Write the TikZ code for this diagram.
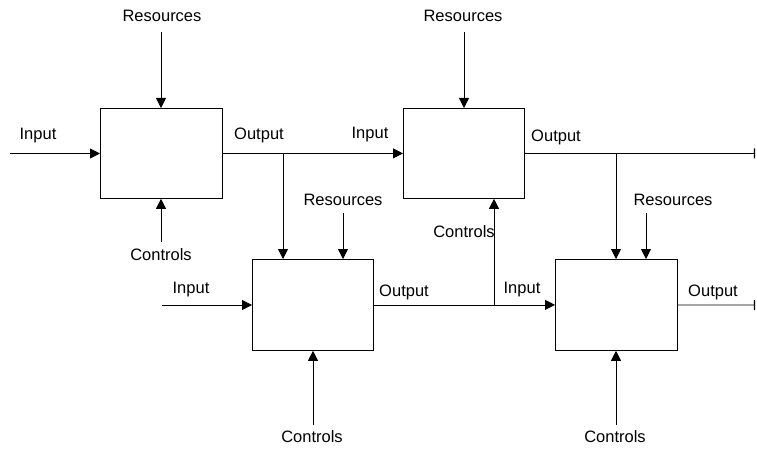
\documentclass[tikz,border=0pt]{standalone}
\usepackage{fontspec}
\setmainfont{Liberation Sans}
\usetikzlibrary{arrows.meta}
\begin{document}
\begin{tikzpicture}[x=1pt,y=-1pt,
  proc/.style={draw, line width=0.8pt, inner sep=0pt, anchor=north west},
  flow/.style={line width=0.8pt, -{Triangle[length=10pt,width=10pt]}},
  term/.style={line width=0.8pt, -{Bar[width=10pt,line width=1.2pt]}},
  lbl/.style={font=\fontsize{16.5}{19}\selectfont, inner sep=0pt}]
\useasboundingbox (0,0) rectangle (757,449);

% activity boxes
\node[proc, minimum width=122pt, minimum height=90pt] (A) at (100,108) {};
\node[proc, minimum width=121pt, minimum height=90pt] (B) at (403,108) {};
\node[proc, minimum width=121pt, minimum height=91pt] (C) at (252,259) {};
\node[proc, minimum width=122pt, minimum height=91pt] (D) at (555,259) {};

% free ends and junctions
\coordinate (a-in)  at (10,153.5);
\coordinate (a-res) at (161,32);
\coordinate (a-ctl) at (161,242);
\coordinate (j1)    at (283,153.5);
\coordinate (b-res) at (464,32);
\coordinate (b-out) at (755,153.5);
\coordinate (j2)    at (616,153.5);
\coordinate (c-in)  at (162,305);
\coordinate (c-res) at (343,213);
\coordinate (c-ctl) at (313,425);
\coordinate (j3)    at (494,305);
\coordinate (d-res) at (646,213);
\coordinate (d-ctl) at (616,425);
\coordinate (d-out) at (755,305);

% box A
\draw[flow] (a-in) -- (a-in -| A.west);
\draw[flow] (a-res) -- (a-res |- A.north);
\draw[flow] (a-ctl) -- (a-ctl |- A.south);
\draw[flow] (A.east) -- (B.west);
\draw[flow] (j1) -- (j1 |- C.north);

% box B
\draw[flow] (b-res) -- (b-res |- B.north);
\draw[term] (B.east) -- (b-out);
\draw[flow] (j2) -- (j2 |- D.north);

% box C
\draw[flow] (c-in) -- (c-in -| C.west);
\draw[flow] (c-res) -- (c-res |- C.north);
\draw[flow] (c-ctl) -- (c-ctl |- C.south);
\draw[flow] (C.east) -- (D.west);
\draw[flow] (j3) -- (j3 |- B.south);

% box D
\draw[flow] (d-res) -- (d-res |- D.north);
\draw[flow] (d-ctl) -- (d-ctl |- D.south);
\draw[term] (D.east) -- (d-out);

% labels
\node[lbl] (l1)  at (38,136)  {Input};
\node[lbl] (l2)  at (162,16)  {Resources};
\node[lbl] (l3)  at (259,135) {Output};
\node[lbl] (l4)  at (161,255) {Controls};
\node[lbl] (l5)  at (370,135) {Input};
\node[lbl] (l6)  at (463,16)  {Resources};
\node[lbl] (l7)  at (556,137) {Output};
\node[lbl] (l8)  at (464,232) {Controls};
\node[lbl] (l9)  at (343,200) {Resources};
\node[lbl] (l10) at (191,290) {Input};
\node[lbl] (l11) at (404,292) {Output};
\node[lbl] (l12) at (312,437) {Controls};
\node[lbl] (l13) at (522,290) {Input};
\node[lbl] (l14) at (673,200) {Resources};
\node[lbl] (l15) at (713,292) {Output};
\node[lbl] (l16) at (615,437) {Controls};
\end{tikzpicture}
\end{document}
